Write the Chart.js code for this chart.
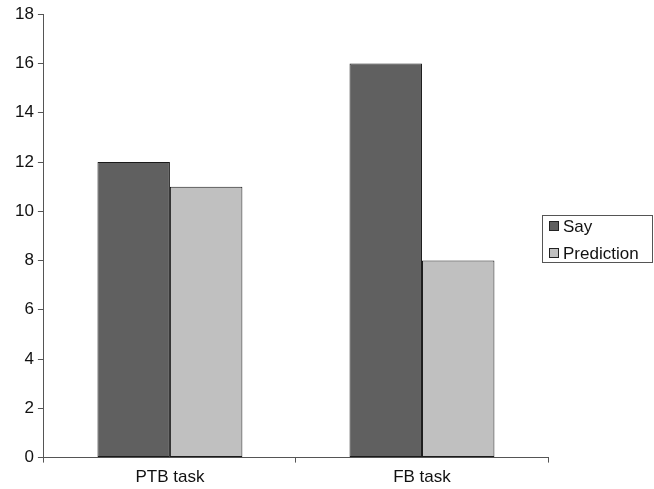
<!DOCTYPE html>
<html>
<head>
<meta charset="utf-8">
<script src="https://cdn.jsdelivr.net/npm/chart.js@4"></script>
<style>
  html, body { margin: 0; padding: 0; background: #fff; }
  #wrap { width: 654px; height: 489px; }
</style>
</head>
<body>
<div id="wrap"><canvas id="chart" width="654" height="489"></canvas></div>
<script>
// data
var categories = ['PTB task', 'FB task'];
var sayValues = [12, 16];
var predictionValues = [11, 8];
var seriesNames = ['Say', 'Prediction'];
var yTicks = [0, 2, 4, 6, 8, 10, 12, 14, 16, 18];

var FONT = '"Liberation Sans", Arial, Helvetica, sans-serif';

// boxed legend on the right, like the original
var boxLegend = {
    id: 'boxLegend',
    afterDraw: function (chart) {
        var ctx = chart.ctx;
        var x = 542, y = 215, w = 110, h = 47;
        ctx.save();
        ctx.strokeStyle = '#555';
        ctx.lineWidth = 1;
        ctx.strokeRect(x + 0.5, y + 0.5, w, h);
        ctx.font = '17px ' + FONT;
        ctx.textBaseline = 'middle';
        chart.data.datasets.forEach(function (ds, i) {
            var cy = y + 11 + i * 27;
            ctx.fillStyle = ds.backgroundColor;
            ctx.fillRect(x + 7, cy - 5, 10, 10);
            ctx.strokeStyle = '#222';
            ctx.strokeRect(x + 7.5, cy - 4.5, 9, 9);
            ctx.fillStyle = '#111';
            ctx.fillText(ds.label, x + 21, cy + 1);
        });
        ctx.restore();
    }
};

var ctx = document.getElementById('chart').getContext('2d');
var chart = new Chart(ctx, {
    type: 'bar',
    data: {
        labels: categories,
        datasets: [{
            label: seriesNames[0],
            data: sayValues,
            backgroundColor: '#606060',
            borderColor: '#1a1a1a',
            borderWidth: 1,
            borderSkipped: false
        }, {
            label: seriesNames[1],
            data: predictionValues,
            backgroundColor: '#c0c0c0',
            borderColor: '#1a1a1a',
            borderWidth: 1,
            borderSkipped: false
        }]
    },
    options: {
        responsive: false,
        animation: false,
        layout: { padding: { left: 11, right: 106, top: 13, bottom: -4 } },
        plugins: {
            legend: { display: false },
            tooltip: { enabled: false }
        },
        datasets: {
            bar: { categoryPercentage: 0.575, barPercentage: 1 }
        },
        scales: {
            x: {
                grid: { drawOnChartArea: false, drawTicks: true, tickLength: 5, color: '#555', offset: true },
                border: { color: '#555' },
                ticks: { color: '#111', font: { family: FONT, size: 17 }, padding: 5 }
            },
            y: {
                min: 0,
                max: 18,
                afterBuildTicks: function (axis) {
                    axis.ticks = yTicks.map(function (v) { return { value: v }; });
                },
                grid: { drawOnChartArea: false, drawTicks: true, tickLength: 6, color: '#555' },
                border: { color: '#555' },
                ticks: { color: '#111', font: { family: FONT, size: 17 }, padding: 4 }
            }
        }
    },
    plugins: [boxLegend]
});
</script>
</body>
</html>
